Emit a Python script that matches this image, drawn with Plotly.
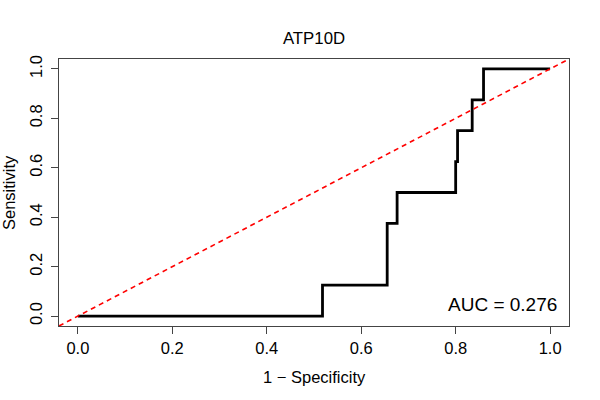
import plotly.graph_objects as go

title_text = "ATP10D"
x_label = "1 \u2212 Specificity"
y_label = "Sensitivity"
auc_label = "AUC = 0.276"

# ROC step points (1 - specificity, sensitivity)
fpr = [0.0, 0.518, 0.655, 0.676, 0.800, 0.804, 0.835, 0.859, 1.0]
tpr = [0.0, 0.125, 0.375, 0.500, 0.625, 0.750, 0.875, 1.000, 1.0]

ref_x = [-0.04, 1.04]
ref_y = [-0.04, 1.04]

tick_vals = [0.0, 0.2, 0.4, 0.6, 0.8, 1.0]
tick_text = ["0.0", "0.2", "0.4", "0.6", "0.8", "1.0"]

FONT = "Liberation Sans, Arial, Helvetica, sans-serif"
FS = 16.5

fig = go.Figure()
fig.add_trace(go.Scatter(x=fpr, y=tpr, mode="lines", line=dict(color="black", width=2.8, shape="hv"),
                         showlegend=False, hoverinfo="skip"))
fig.add_trace(go.Scatter(x=ref_x, y=ref_y, mode="lines",
                         line=dict(color="#ff0000", width=1.6, dash="5px,4px"),
                         showlegend=False, hoverinfo="skip"))

axis_common = dict(
    range=[-0.04, 1.04], showgrid=False, zeroline=False,
    showline=True, mirror=True, linecolor="#444444", linewidth=1,
    ticks="outside", ticklen=7, tickwidth=1, tickcolor="#444444",
    tickvals=tick_vals, ticktext=tick_text,
    tickfont=dict(family=FONT, size=FS, color="black"),
)

fig.update_layout(
    width=600, height=400,
    margin=dict(l=59, r=31, t=59, b=74),
    paper_bgcolor="white", plot_bgcolor="white",
    title=dict(text=title_text, x=0.5, xanchor="center", xref="paper",
               y=1 - 38 / 400, yanchor="middle", yref="container",
               font=dict(family=FONT, size=16.8, color="black")),
    xaxis=dict(**axis_common),
    yaxis=dict(**axis_common, tickangle=-90, ticklabelstandoff=2),
    annotations=[
        dict(text=x_label, xref="paper", yref="paper", x=0.5, y=(326 - 377) / 267,
             xanchor="center", yanchor="middle", showarrow=False,
             font=dict(family=FONT, size=FS, color="black")),
        dict(text=y_label, xref="paper", yref="paper", x=(8.5 - 59) / 510, y=0.5,
             xanchor="center", yanchor="middle", textangle=-90, showarrow=False,
             font=dict(family=FONT, size=FS, color="black")),
        dict(text=auc_label, xref="x", yref="y", x=1.019, y=0.046,
             xanchor="right", yanchor="middle", showarrow=False,
             font=dict(family=FONT, size=19, color="black")),
    ],
)

fig.write_html("out.html", config={"displayModeBar": False},
               post_script="document.body.style.margin='0';document.body.style.overflow='hidden';")
